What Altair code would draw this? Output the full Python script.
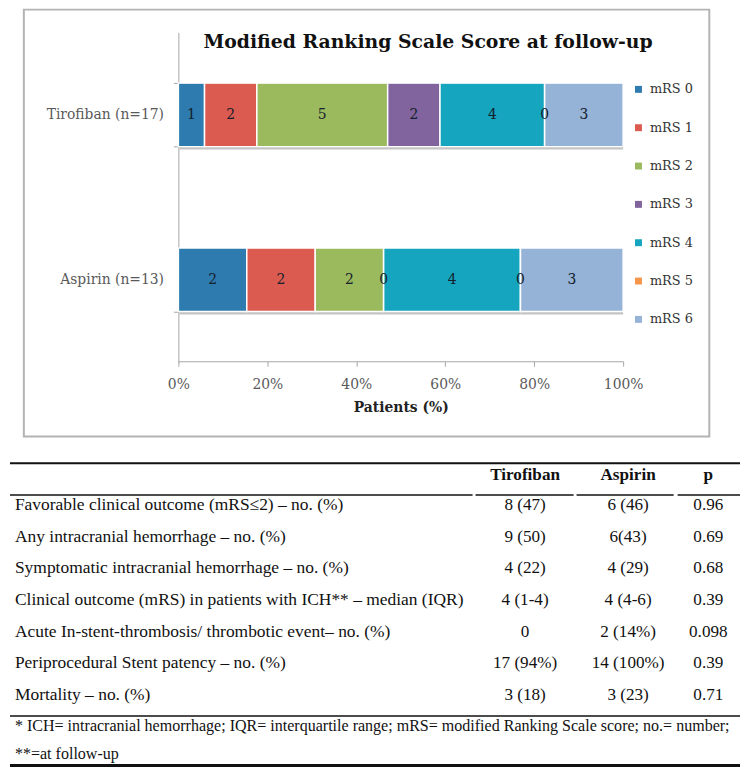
import altair as alt
import pandas as pd

# ---------------- data ----------------
groups = ["Tirofiban (n=17)", "Aspirin (n=13)"]
categories = ["mRS 0", "mRS 1", "mRS 2", "mRS 3", "mRS 4", "mRS 5", "mRS 6"]
tirofiban_counts = [1, 2, 5, 2, 4, 0, 3]
aspirin_counts = [2, 2, 2, 0, 4, 0, 3]
colors = ["#2E7BB0", "#DC5B51", "#9BBA5E", "#81649E", "#16A5BE", "#F7964A", "#94B3D6"]
x_ticks = [0, 0.2, 0.4, 0.6, 0.8, 1.0]

chart_title = "Modified Ranking Scale Score at follow-up"
x_title = "Patients (%)"

table_header = ["Tirofiban", "Aspirin", "p"]
row_labels = [
    "Favorable clinical outcome (mRS\u22642) \u2013 no. (%)",
    "Any intracranial hemorrhage \u2013 no. (%)",
    "Symptomatic intracranial hemorrhage \u2013 no. (%)",
    "Clinical outcome (mRS) in patients with ICH** \u2013 median (IQR)",
    "Acute In-stent-thrombosis/ thrombotic event\u2013 no. (%)",
    "Periprocedural Stent patency \u2013 no. (%)",
    "Mortality \u2013 no. (%)",
]
tirofiban_col = ["8 (47)", "9 (50)", "4 (22)", "4 (1-4)", "0", "17 (94%)", "3 (18)"]
aspirin_col = ["6 (46)", "6(43)", "4 (29)", "4 (4-6)", "2 (14%)", "14 (100%)", "3 (23)"]
p_col = ["0.96", "0.69", "0.68", "0.39", "0.098", "0.39", "0.71"]
footnotes = [
    "* ICH= intracranial hemorrhage; IQR= interquartile range; mRS= modified Ranking Scale score; no.= number;",
    "**=at follow-up",
]

# ---------------- layout / style ----------------
CFONT = "DejaVu Serif"
TFONT = "Liberation Serif"
TOP_W, TOP_H = 706, 431
FRAME_L = 14
TAB_W, TAB_H = 737, 312

# ---------------- bar chart ----------------
rows = []
for g, counts in zip(groups, [tirofiban_counts, aspirin_counts]):
    for i, (c, n) in enumerate(zip(categories, counts)):
        rows.append({"group": g, "cat": c, "order": i, "count": n})
bar_df = pd.DataFrame(rows)

xscale = alt.Scale(domain=[0, 1], range=[FRAME_L + 156, FRAME_L + 605])
yscale = alt.Scale(domain=groups, range=[23, 356], paddingInner=0.615, paddingOuter=0.3075)
cscale = alt.Scale(domain=categories, range=colors)

X_AXIS = alt.Axis(
    values=x_ticks, format=".0%", offset=-76, grid=False,
    domainColor="#a6a6a6", tickColor="#a6a6a6", tickSize=5,
    labelFlush=False, labelPadding=11, labelFont=CFONT, labelFontSize=14,
    labelColor="#595959", title=x_title, titleFont=CFONT, titleFontSize=14,
    titleFontWeight="bold", titleColor="#222222", titlePadding=10,
)
Y_AXIS = alt.Axis(
    title=None, offset=-(FRAME_L + 156), tickBand="extent", domainColor="#a6a6a6",
    tickColor="#a6a6a6", tickSize=5, labelPadding=10, labelFont=CFONT,
    labelFontSize=14, labelColor="#595959",
)

frame = alt.Chart(pd.DataFrame({"f": [0]})).mark_rect(
    fillOpacity=0, stroke="#b3b3b3", strokeWidth=2
).encode(
    x=alt.value(FRAME_L), x2=alt.value(TOP_W), y=alt.value(0), y2=alt.value(TOP_H)
)

base = alt.Chart(bar_df).transform_stack(
    stack="count",
    groupby=["group"],
    as_=["x0", "x1"],
    offset="normalize",
    sort=[alt.SortField("order", order="ascending")],
)

shadow = base.transform_aggregate(
    x0="min(x0)", x1="max(x1)", groupby=["group"]
).mark_bar(color="#c4c4c4", yOffset=3, xOffset=1).encode(
    x=alt.X("x0:Q", scale=xscale, axis=X_AXIS),
    x2="x1:Q",
    y=alt.Y("group:N", scale=yscale, sort=groups, axis=Y_AXIS),
)

bars = base.mark_bar(stroke="white", strokeWidth=1.5).encode(
    x=alt.X("x0:Q", scale=xscale, axis=X_AXIS),
    x2="x1:Q",
    y=alt.Y("group:N", scale=yscale, sort=groups, axis=Y_AXIS),
    color=alt.Color(
        "cat:N",
        scale=cscale,
        legend=alt.Legend(
            orient="none", legendX=FRAME_L + 614, legendY=74, title=None,
            symbolType="square", symbolSize=49, symbolStrokeWidth=0, labelFont=CFONT,
            labelFontSize=13, labelColor="#333333", rowPadding=24.7, labelOffset=5,
            padding=0,
        ),
    ),
)

labels = base.transform_calculate(xm="(datum.x0 + datum.x1) / 2").mark_text(
    font=CFONT, fontSize=14, color="#14202b", baseline="middle"
).encode(
    x=alt.X("xm:Q", scale=xscale, axis=X_AXIS),
    y=alt.Y("group:N", scale=yscale, sort=groups, axis=Y_AXIS),
    text="count:N",
)

title_mark = alt.Chart(pd.DataFrame({"t": [chart_title]})).mark_text(
    font=CFONT, fontSize=19, fontWeight="bold", color="#111111",
    align="center", baseline="middle",
).encode(text="t:N", x=alt.value(FRAME_L + 408), y=alt.value(33))

box = alt.layer(frame, shadow, bars, labels, title_mark).properties(
    width=TOP_W, height=TOP_H
)

# ---------------- table ----------------
COL_X = {"label": 5, "tir": 520, "asp": 624, "p": 705}
HEADER_ROW = -0.9375
FOOT_ROWS = [6.97, 7.86]

xs = alt.Scale(domain=[0, TAB_W], range=[0, TAB_W])
ys = alt.Scale(domain=[-1.4375, 8.3125], range=[0, TAB_H])

lab_df = pd.DataFrame({"text": row_labels, "x": COL_X["label"], "y": list(range(len(row_labels)))})
val_rows = []
for i in range(len(row_labels)):
    val_rows.append({"text": tirofiban_col[i], "x": COL_X["tir"], "y": i})
    val_rows.append({"text": aspirin_col[i], "x": COL_X["asp"], "y": i})
    val_rows.append({"text": p_col[i], "x": COL_X["p"], "y": i})
val_df = pd.DataFrame(val_rows)
head_df = pd.DataFrame({
    "text": table_header,
    "x": [COL_X["tir"], COL_X["asp"], COL_X["p"]],
    "y": HEADER_ROW,
})
foot_df = pd.DataFrame({"text": footnotes, "x": COL_X["label"], "y": FOOT_ROWS})

rule_df = pd.DataFrame([
    {"x0": 0, "x1": TAB_W, "y": -1.3125, "w": 2},
    {"x0": 0, "x1": 467, "y": -0.3125, "w": 1.5},
    {"x0": 470, "x1": 569, "y": -0.3125, "w": 1.5},
    {"x0": 572, "x1": 670, "y": -0.3125, "w": 1.5},
    {"x0": 674, "x1": TAB_W, "y": -0.3125, "w": 1.5},
    {"x0": 0, "x1": TAB_W, "y": 6.656, "w": 1.5},
    {"x0": 0, "x1": TAB_W, "y": 8.22, "w": 3},
])


def txt(df, align, size, weight="normal"):
    return alt.Chart(df).mark_text(
        font=TFONT, fontSize=size, fontWeight=weight, align=align,
        baseline="middle", color="#111111",
    ).encode(
        x=alt.X("x:Q", scale=xs, axis=None),
        y=alt.Y("y:Q", scale=ys, axis=None),
        text="text:N",
    )


rules = alt.Chart(rule_df).mark_rule(color="#111111").encode(
    x=alt.X("x0:Q", scale=xs, axis=None),
    x2="x1:Q",
    y=alt.Y("y:Q", scale=ys, axis=None),
    size=alt.Size("w:Q", scale=None, legend=None),
)

table = alt.layer(
    rules,
    txt(lab_df, "left", 17.6),
    txt(val_df, "center", 17.3),
    txt(head_df, "center", 17.3, "bold"),
    txt(foot_df, "left", 16.2),
).properties(width=TAB_W, height=TAB_H)

chart = alt.vconcat(box, table, spacing=22).properties(
    padding={"top": -9, "left": 0, "right": 0, "bottom": 0}
).configure_view(strokeWidth=0).resolve_scale(color="independent")

chart.save("out.html", embed_options={"renderer": "svg", "actions": False})
